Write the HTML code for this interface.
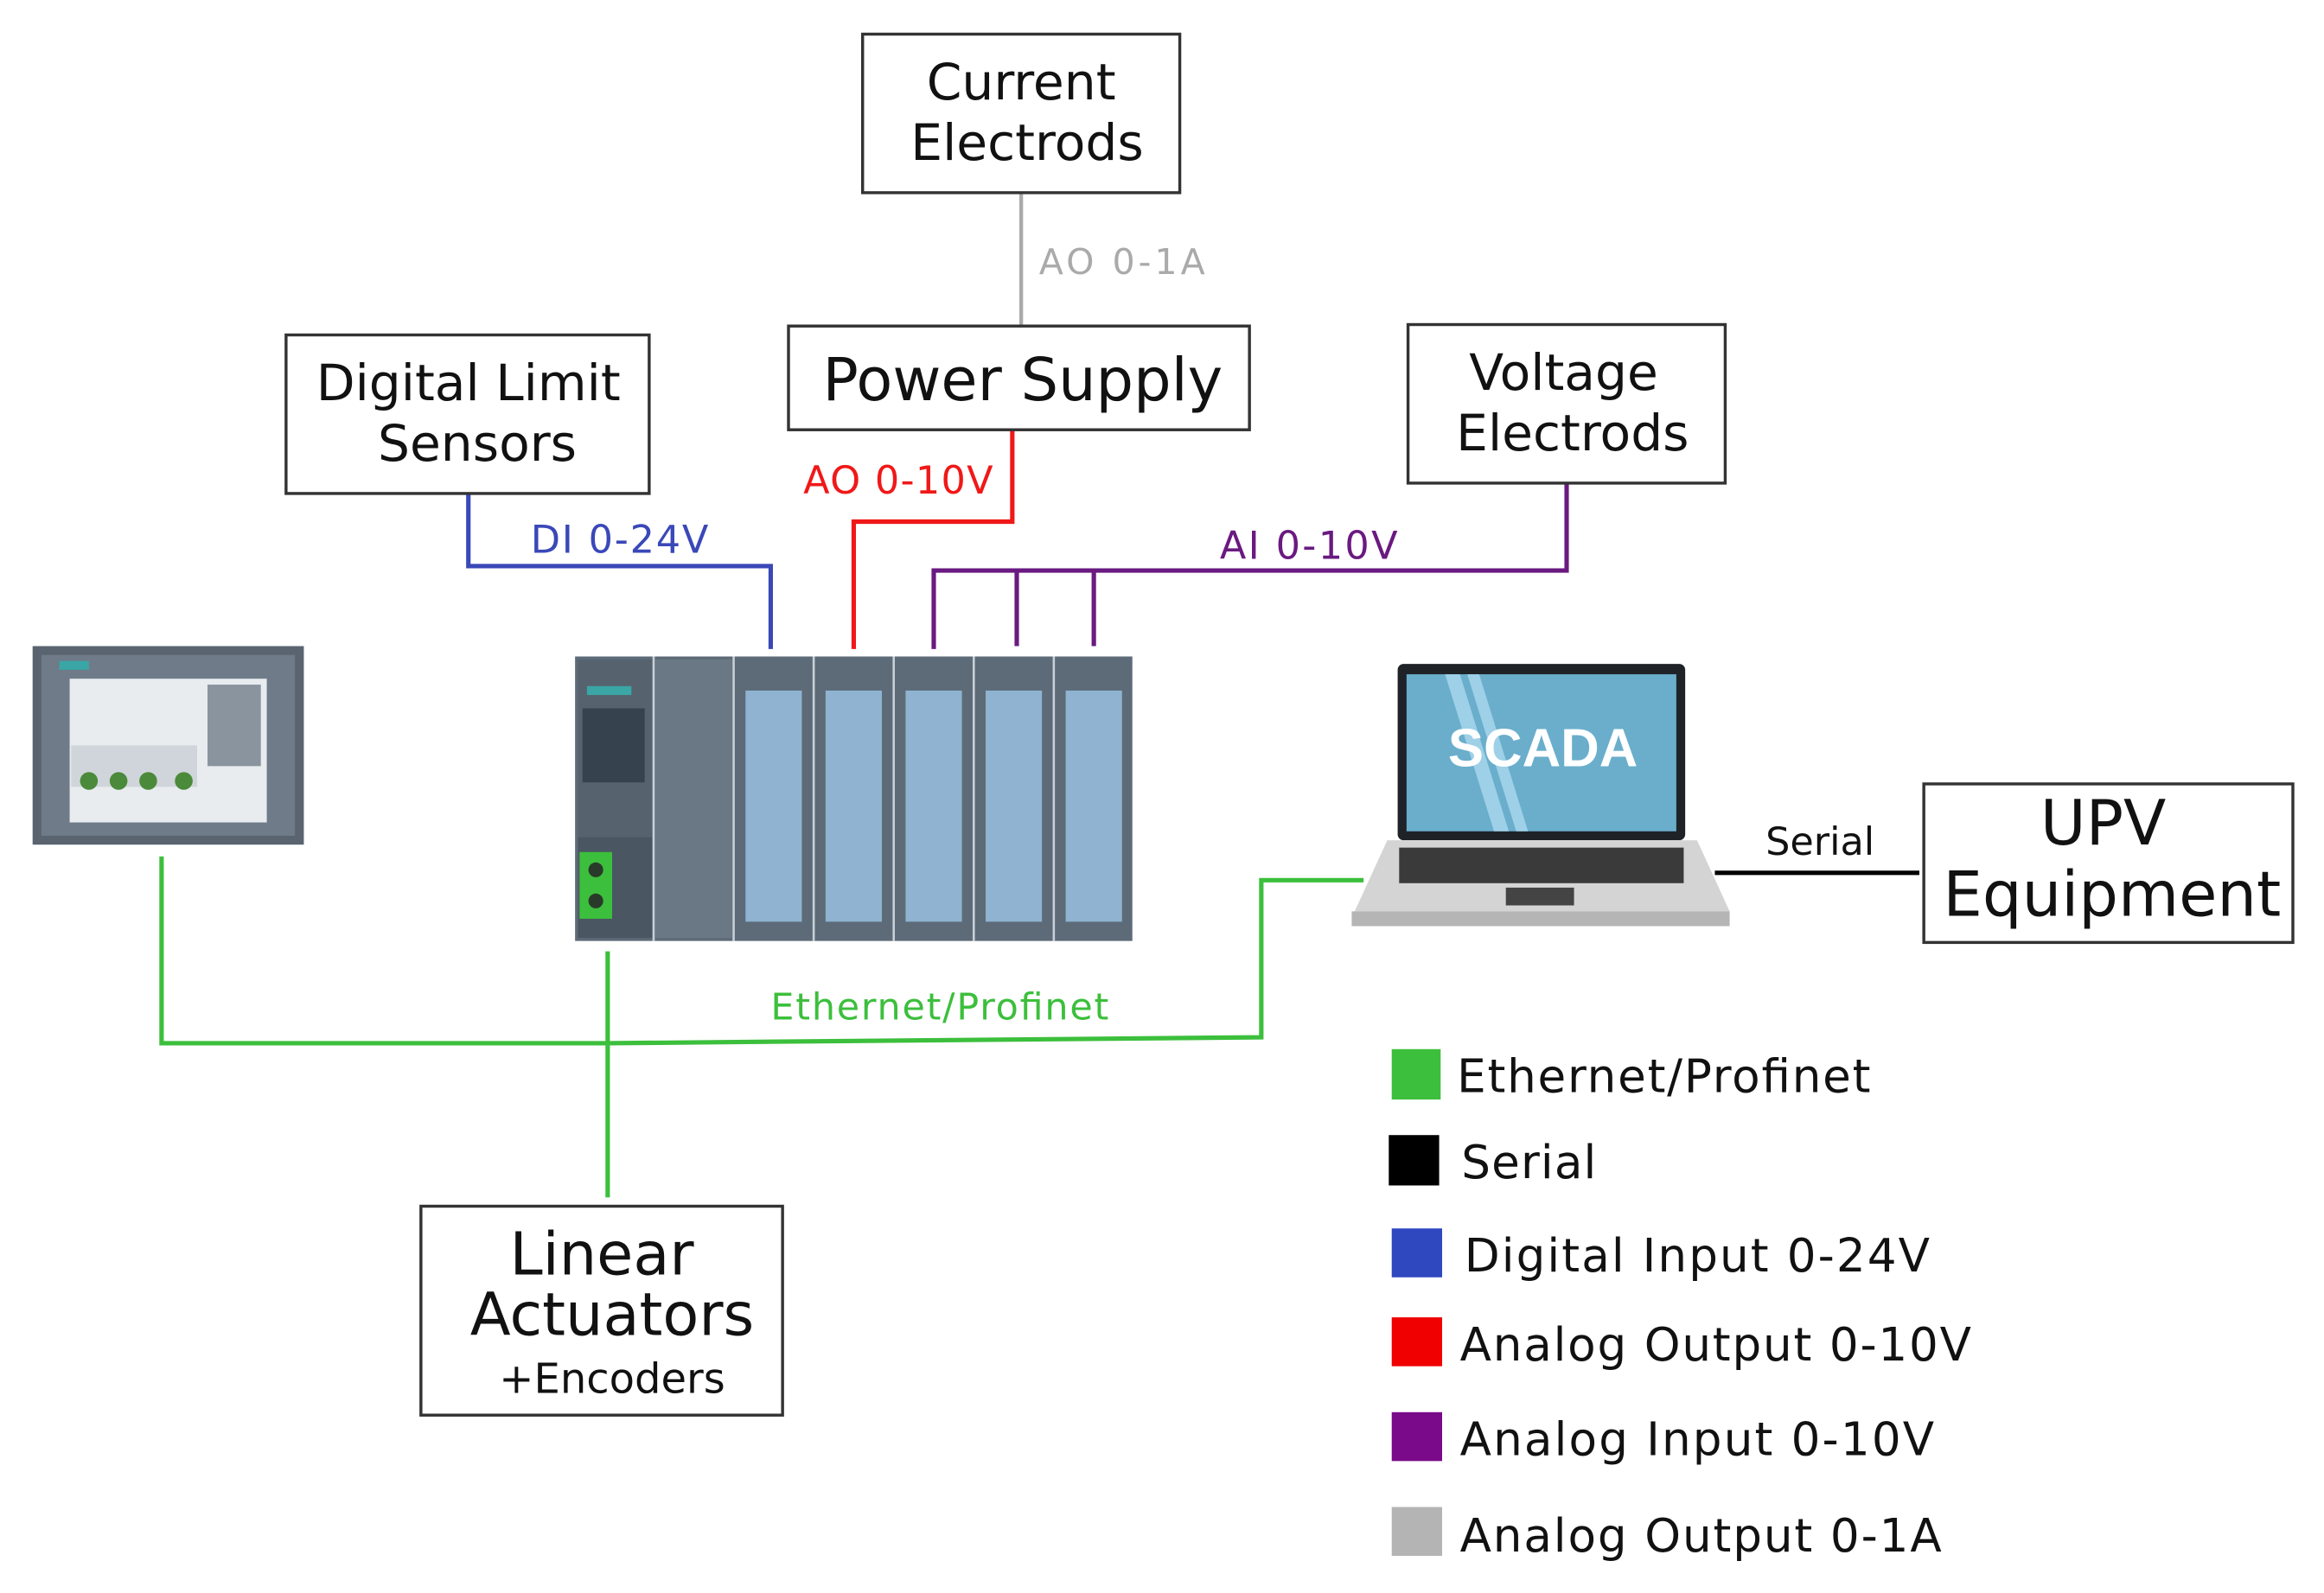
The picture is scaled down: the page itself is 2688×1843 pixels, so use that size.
<!DOCTYPE html>
<html><head><meta charset="utf-8"><style>html,body{margin:0;padding:0;background:#fff}svg{display:block}</style></head>
<body>
<svg width="2688" height="1843" viewBox="0 0 1568 1075" xmlns="http://www.w3.org/2000/svg" font-family="'DejaVu Sans', Verdana, sans-serif">
<rect width="1568" height="1075" fill="#fff"/>
<g fill="none">
<line x1="689" y1="130" x2="689" y2="220" stroke="#aaa" stroke-width="2.5"/>
<polyline points="683,290 683,352 576,352 576,438" stroke="#f01818" stroke-width="3"/>
<polyline points="316,333 316,382 520,382 520,438" stroke="#3a48b8" stroke-width="3"/>
<polyline points="1057,326 1057,385 630,385 630,438" stroke="#6a1a80" stroke-width="3"/>
<line x1="686" y1="385" x2="686" y2="436" stroke="#6a1a80" stroke-width="3"/>
<line x1="738" y1="385" x2="738" y2="436" stroke="#6a1a80" stroke-width="3"/>
<polyline points="109,578 109,704 410,704 851,700 851,594 920,594" stroke="#3cbf3c" stroke-width="3"/>
<line x1="410" y1="642" x2="410" y2="808" stroke="#3cbf3c" stroke-width="3"/>
<line x1="1157" y1="589" x2="1295" y2="589" stroke="#000" stroke-width="3"/>
</g>
<text x="701" y="185" font-size="24" fill="#aaa" textLength="112">AO 0-1A</text>
<text x="542" y="333" font-size="26" fill="#f01818" textLength="128">AO 0-10V</text>
<text x="358" y="373" font-size="26" fill="#3a48b8" textLength="120">DI 0-24V</text>
<text x="823" y="377" font-size="26" fill="#6a1a80" textLength="120">AI 0-10V</text>
<text x="520" y="688" font-size="25" fill="#3cbf3c" textLength="228">Ethernet/Profinet</text>
<text x="1228" y="577" font-size="26" fill="#111" text-anchor="middle">Serial</text>
<g fill="#fff" stroke="#333" stroke-width="2">
<rect x="582" y="23" width="214" height="107"/>
<rect x="532" y="220" width="311" height="70"/>
<rect x="193" y="226" width="245" height="107"/>
<rect x="950" y="219" width="214" height="107"/>
<rect x="1298" y="529" width="249" height="107"/>
<rect x="284" y="814" width="244" height="141"/>
</g>
<g fill="#111" text-anchor="middle">
<text x="689" y="67" font-size="34">Current</text>
<text x="693" y="108" font-size="34">Electrods</text>
<text x="690" y="270" font-size="40">Power Supply</text>
<text x="316" y="270" font-size="34">Digital Limit</text>
<text x="322" y="311" font-size="34">Sensors</text>
<text x="1055" y="263" font-size="34">Voltage</text>
<text x="1061" y="304" font-size="34">Electrods</text>
<text x="1419" y="570" font-size="42">UPV</text>
<text x="1425" y="618" font-size="42">Equipment</text>
<text x="406" y="860" font-size="40">Linear</text>
<text x="413" y="901" font-size="40">Actuators</text>
<text x="413" y="940" font-size="28">+Encoders</text>
</g>
<rect x="22" y="436" width="183" height="134" fill="#5a6470"/>
<rect x="28" y="442" width="171" height="122" fill="#6f7b88"/>
<rect x="47" y="458" width="133" height="97" fill="#e8ecef"/>
<rect x="48" y="503" width="85" height="28" fill="#cfd5da"/>
<rect x="140" y="462" width="36" height="55" fill="#8a949e"/>
<g fill="#4a8a3a"><circle cx="60" cy="527" r="6"/><circle cx="80" cy="527" r="6"/><circle cx="100" cy="527" r="6"/><circle cx="124" cy="527" r="6"/></g>
<rect x="40" y="446" width="20" height="6" fill="#3aa6a6"/>
<rect x="388" y="443" width="376" height="192" fill="#5d6b78"/>
<rect x="390" y="445" width="50" height="188" fill="#56636f"/>
<rect x="393" y="478" width="42" height="50" fill="#36424e"/>
<rect x="396" y="463" width="30" height="6" fill="#3aa6a6"/>
<rect x="390" y="565" width="50" height="68" fill="#4a5662"/>
<rect x="391" y="575" width="22" height="45" fill="#3cbf3c"/>
<circle cx="402" cy="587" r="5" fill="#2a3a2a"/><circle cx="402" cy="608" r="5" fill="#2a3a2a"/>
<rect x="442" y="445" width="52" height="188" fill="#6a7784"/>
<g fill="#8fb3d0">
<rect x="503" y="466" width="38" height="156"/>
<rect x="557" y="466" width="38" height="156"/>
<rect x="611" y="466" width="38" height="156"/>
<rect x="665" y="466" width="38" height="156"/>
<rect x="719" y="466" width="38" height="156"/>
</g>
<g stroke="#c8d0d8" stroke-width="1.5">
<line x1="441" y1="443" x2="441" y2="635"/><line x1="495" y1="443" x2="495" y2="635"/>
<line x1="549" y1="443" x2="549" y2="635"/><line x1="603" y1="443" x2="603" y2="635"/>
<line x1="657" y1="443" x2="657" y2="635"/><line x1="711" y1="443" x2="711" y2="635"/>
</g>
<rect x="943" y="448" width="194" height="119" rx="4" fill="#1f2328"/>
<rect x="949" y="455" width="182" height="106" fill="#6aaecc"/>
<polygon points="975,455 985,455 1018,561 1008,561" fill="#9ed0e8"/>
<polygon points="990,455 998,455 1031,561 1023,561" fill="#9ed0e8"/>
<text x="1041" y="517" font-size="36" font-weight="bold" fill="#fff" text-anchor="middle" font-family="'Liberation Sans', sans-serif">SCADA</text>
<polygon points="936,567 1145,567 1167,615 914,615" fill="#d4d4d4"/>
<rect x="912" y="615" width="255" height="10" fill="#b5b5b5"/>
<rect x="944" y="572" width="192" height="24" fill="#3a3a3a"/>
<rect x="1016" y="599" width="46" height="12" fill="#444"/>
<rect x="939" y="708" width="33" height="34" fill="#3cbf3c"/>
<rect x="937" y="766" width="34" height="34" fill="#000"/>
<rect x="939" y="829" width="34" height="33" fill="#2f48c0"/>
<rect x="939" y="889" width="34" height="33" fill="#f00000"/>
<rect x="939" y="953" width="34" height="33" fill="#7a0a8a"/>
<rect x="939" y="1017" width="34" height="33" fill="#b4b4b4"/>
<g fill="#111" font-size="31">
<text x="983" y="737" textLength="279">Ethernet/Profinet</text>
<text x="986" y="795" textLength="91">Serial</text>
<text x="988" y="858" textLength="314">Digital Input 0-24V</text>
<text x="985" y="918" textLength="345">Analog Output 0-10V</text>
<text x="985" y="982" textLength="320">Analog Input 0-10V</text>
<text x="985" y="1047" textLength="325">Analog Output 0-1A</text>
</g>
</svg>
</body></html>
